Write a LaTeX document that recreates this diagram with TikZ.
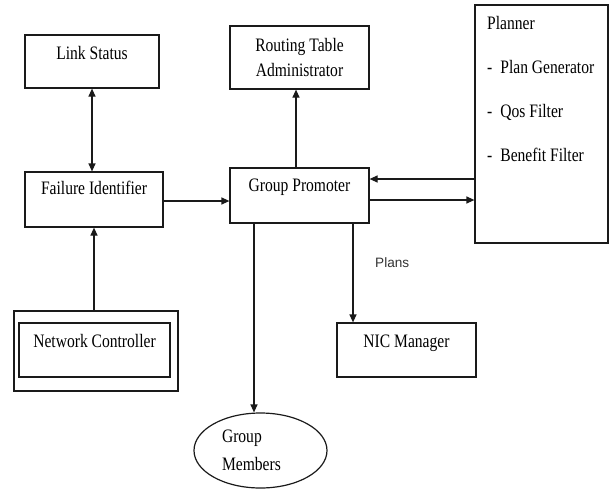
\documentclass[tikz,border=0pt]{standalone}
\usepackage{fontspec}
\setmainfont{Liberation Serif}[FakeStretch=0.82]
\newfontfamily\plansfont{Liberation Sans}
\usetikzlibrary{
    positioning,
    calc,
    shapes.geometric,
    arrows.meta
}
\definecolor{Contorno}{HTML}{1A1A1A}
\definecolor{TextoPlans}{HTML}{333333}

\tikzset{
    box/.style={
        draw=Contorno,
        line width=1.2pt,
        rectangle,
        inner sep=0pt,
        font=\fontsize{19}{25}\selectfont
    },
    textup/.style={text height=13pt, text depth=#1},
    oval/.style={
        draw=Contorno,
        line width=1.2pt,
        ellipse,
        inner sep=0pt,
        font=\fontsize{19}{28}\selectfont
    },
    plannerlist/.style={
        inner sep=0pt,
        align=left,
        font=\fontsize{19}{44}\selectfont
    },
    plans/.style={
        inner sep=0pt,
        text=TextoPlans,
        font=\plansfont\fontsize{13.6}{16}\selectfont
    },
    arrow/.style={
        draw=Contorno,
        line width=1.2pt,
        -{Triangle[length=8pt,width=7pt]}
    },
    twoway/.style={
        arrow,
        {Triangle[length=8pt,width=7pt]}-{Triangle[length=8pt,width=7pt]}
    }
}

\begin{document}
\begin{tikzpicture}[x=1pt, y=-1pt]
    \useasboundingbox (0,0) rectangle (610,490);

    % upper row
    \node[box, textup=18pt, minimum width=134pt, minimum height=53pt]
        (linkstatus) at (92,61.5) {Link Status};
    \node[box, align=center, minimum width=139pt, minimum height=63pt]
        (rtadmin) at (299.5,57.5) {Routing Table\\Administrator};
    \node[box, minimum width=133pt, minimum height=238pt]
        (planner) at (541.5,124) {};
    \node[plannerlist, anchor=north west]
        (plannertext) at (487,16) {Planner\\
            -\hspace{8pt}Plan Generator\\
            -\hspace{8pt}Qos Filter\\
            -\hspace{8pt}Benefit Filter};

    % middle row
    \node[box, textup=24pt, minimum width=138pt, minimum height=55pt]
        (failure) at (94,199.5) {Failure Identifier};
    \node[box, textup=22pt, minimum width=139pt, minimum height=55pt]
        (promoter) at (299.5,195.5) {Group Promoter};

    % lower row
    \node[box, minimum width=164pt, minimum height=80pt]
        (netframe) at (96,351) {};
    \node[box, textup=19pt, minimum width=151pt, minimum height=54pt]
        (netctrl) at (94.5,350) {Network Controller};
    \node[box, textup=19pt, minimum width=139pt, minimum height=54pt]
        (nicmgr) at (406.5,350) {NIC Manager};
    \node[oval, text width=77pt, align=left, minimum width=133pt, minimum height=75pt]
        (members) at (260.5,450.5) {Group\\Members};
    \node[plans, anchor=west] (plans) at (375,263) {Plans};

    % connectors
    \draw[twoway] (linkstatus.south) -- (linkstatus.south |- failure.north);
    \draw[arrow] (netframe.north -| failure.south) -- (failure.south);
    \draw[arrow] ([yshift=-1.5pt]failure.east) -- ([yshift=-1.5pt]failure.east -| promoter.west);
    \draw[arrow] ([xshift=-3.5pt]promoter.north) -- ([xshift=-3.5pt]rtadmin.south);
    \draw[arrow] ([yshift=16.5pt]promoter.east -| planner.west) -- ([yshift=16.5pt]promoter.east);
    \draw[arrow] ([yshift=-4.5pt]promoter.east) -- ([yshift=-4.5pt]promoter.east -| planner.west);
    \draw[arrow] ([xshift=-45.5pt]promoter.south) -- ([xshift=-45.5pt]promoter.south |- members.north);
    \draw[arrow] ([xshift=53.5pt]promoter.south) -- ([xshift=53.5pt]promoter.south |- nicmgr.north);
\end{tikzpicture}
\end{document}
